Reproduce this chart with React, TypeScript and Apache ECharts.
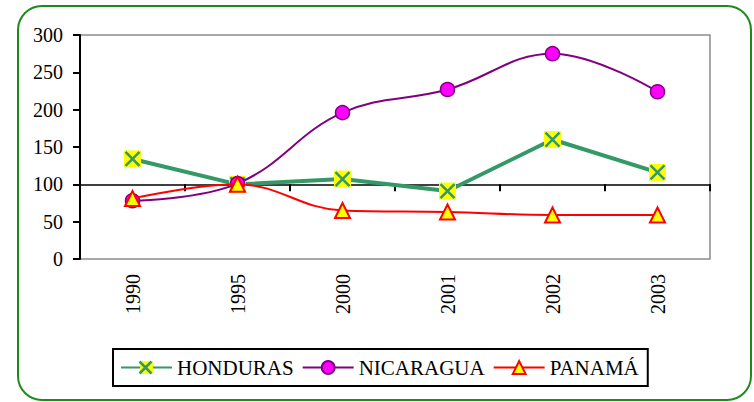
import React, { useEffect, useRef } from "react";
import * as echarts from "echarts";

const years = ["1990", "1995", "2000", "2001", "2002", "2003"];
const honduras = [134, 100, 107, 91, 160, 116];
const nicaragua = [78, 101, 196, 227, 275, 224];
const panama = [81, 100, 65, 63, 59, 59];
const seriesNames = ["HONDURAS", "NICARAGUA", "PANAMÁ"];
const yMin = 0;
const yMax = 300;
const yInterval = 50;
const crossValue = 100;

export default function App() {
  const ref = useRef<HTMLDivElement>(null);
  useEffect(() => {
    const chart = echarts.init(ref.current!, null, { renderer: "svg" });
    const font = "Liberation Serif";
    const gridTop = 35;
    const gridBottom = 143;
    const gridH = 402 - gridTop - gridBottom;
    const crossOffset = -((crossValue - yMin) / (yMax - yMin)) * gridH;
    const lgX = 145.5;
    const lgY = 367.5;
    const xr = 6;
    chart.setOption({
      animation: false,
      backgroundColor: "#ffffff",
      textStyle: { fontFamily: font },
      grid: {
        left: 80,
        top: gridTop,
        right: 44,
        bottom: gridBottom,
        show: true,
        borderColor: "#8c8c8c",
        borderWidth: 1.5,
        outerBoundsMode: "none",
      },
      xAxis: [
        {
          type: "category",
          data: years,
          position: "bottom",
          axisLine: { show: false },
          axisTick: { show: false },
          axisLabel: { rotate: 90, margin: 15, fontFamily: font, fontSize: 20, color: "#000" },
        },
        {
          type: "category",
          data: years,
          position: "bottom",
          offset: crossOffset,
          axisLine: { show: true, lineStyle: { color: "#000", width: 1.5 } },
          axisTick: { show: true, length: 7, lineStyle: { color: "#000", width: 2 } },
          axisLabel: { show: false },
        },
      ],
      yAxis: {
        type: "value",
        min: yMin,
        max: yMax,
        interval: yInterval,
        axisLine: { show: true, lineStyle: { color: "#000", width: 2 } },
        axisTick: { show: true, length: 7, lineStyle: { color: "#000", width: 2 } },
        splitLine: { show: false },
        axisLabel: { margin: 17, fontFamily: font, fontSize: 20, color: "#000" },
      },
      legend: {
        data: seriesNames,
        left: 113,
        top: 349,
        orient: "horizontal",
        itemWidth: 51,
        itemHeight: 16,
        itemGap: 8,
        padding: [8, 9, 8, 7],
        borderColor: "#000",
        borderWidth: 2,
        backgroundColor: "#fff",
        textStyle: { fontFamily: font, fontSize: 21, color: "#000" },
      },
      series: [
        {
          name: seriesNames[0],
          type: "line",
          data: honduras,
          symbol: "rect",
          symbolSize: 17,
          itemStyle: { color: "#ffff00", borderWidth: 0 },
          lineStyle: { color: "#339966", width: 4 },
          z: 2,
        },
        {
          name: "HONDURAS_X",
          type: "scatter",
          data: honduras,
          symbol: "path://M0,0L10,10M10,0L0,10",
          symbolSize: 14,
          itemStyle: { color: "transparent", borderColor: "#339966", borderWidth: 2.5, opacity: 1 },
          z: 3,
        },
        {
          name: seriesNames[1],
          type: "line",
          data: nicaragua,
          smooth: 0.4,
          symbol: "circle",
          symbolSize: 14,
          itemStyle: { color: "#ff00ff", borderColor: "#800080", borderWidth: 1.5 },
          lineStyle: { color: "#800080", width: 2 },
          z: 4,
        },
        {
          name: seriesNames[2],
          type: "line",
          data: panama,
          smooth: 0.4,
          symbol: "triangle",
          symbolSize: 15,
          itemStyle: { color: "#ffff00", borderColor: "#ff0000", borderWidth: 2 },
          lineStyle: { color: "#ff0000", width: 2 },
          z: 5,
        },
      ],
      graphic: [
        {
          type: "rect",
          silent: true,
          z: 100,
          shape: { x: 18, y: 6, width: 733, height: 394, r: 24 },
          style: { fill: "none", stroke: "#1e8a1e", lineWidth: 2 },
        },
        {
          type: "line",
          silent: true,
          z: 100,
          shape: { x1: lgX - xr, y1: lgY - xr, x2: lgX + xr, y2: lgY + xr },
          style: { stroke: "#339966", lineWidth: 2.5 },
        },
        {
          type: "line",
          silent: true,
          z: 100,
          shape: { x1: lgX + xr, y1: lgY - xr, x2: lgX - xr, y2: lgY + xr },
          style: { stroke: "#339966", lineWidth: 2.5 },
        },
      ],
    });
    return () => chart.dispose();
  }, []);
  return (
    <div
      ref={ref}
      style={{ position: "absolute", left: 0, top: 0, width: 754, height: 402, background: "#fff" }}
    />
  );
}
